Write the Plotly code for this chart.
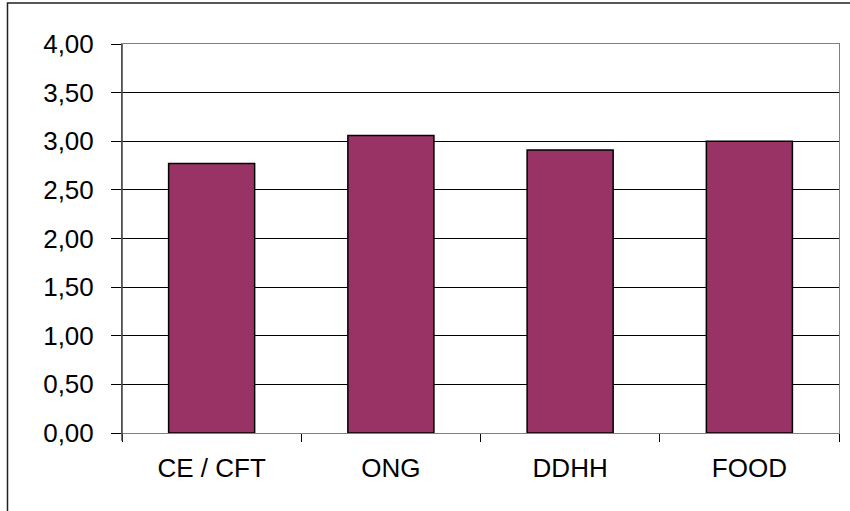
import plotly.graph_objects as go

# Mean scores per group
categories = ["CE / CFT", "ONG", "DDHH", "FOOD"]
values = [2.77, 3.06, 2.91, 3.00]
y_ticks = [0, 0.5, 1, 1.5, 2, 2.5, 3, 3.5, 4]
y_tick_labels = ["0,00", "0,50", "1,00", "1,50", "2,00", "2,50", "3,00", "3,50", "4,00"]

FONT = "Liberation Sans, Arial, sans-serif"

fig = go.Figure(
    go.Bar(
        x=categories,
        y=values,
        marker=dict(color="#993366", line=dict(color="#000000", width=1.5)),
        hoverinfo="x+y",
    )
)

fig.update_layout(
    width=850,
    height=511,
    margin=dict(l=122, r=11, t=44, b=78),
    paper_bgcolor="white",
    plot_bgcolor="white",
    bargap=0.52,
    showlegend=False,
    font=dict(family=FONT, size=26, color="#000000"),
    xaxis=dict(
        showline=True,
        linecolor="#808080",
        linewidth=1,
        mirror=True,
        ticks="outside",
        tickson="boundaries",
        ticklen=8,
        tickcolor="#000000",
        showgrid=False,
        ticklabelstandoff=12,
        tickfont=dict(family=FONT, size=26),
    ),
    yaxis=dict(
        range=[0, 4],
        tickvals=y_ticks,
        ticktext=y_tick_labels,
        showline=True,
        linecolor="#808080",
        linewidth=1,
        mirror=True,
        ticks="outside",
        ticklen=10,
        tickcolor="#000000",
        showgrid=True,
        gridcolor="#000000",
        gridwidth=1,
        zeroline=False,
        ticklabelstandoff=12,
        tickfont=dict(family=FONT, size=26),
    ),
    shapes=[
        # darker left axis line
        dict(type="line", xref="paper", yref="paper", x0=0, x1=0, y0=-0.02, y1=1,
             line=dict(color="#404040", width=1.5)),
        # outer chart frame
        dict(type="rect", xref="paper", yref="paper",
             x0=(7.5 - 122) / 717, x1=(860 - 122) / 717,
             y0=(433 - 520) / 389, y1=(433 - 3) / 389,
             line=dict(color="#202020", width=1.5), layer="below"),
    ],
)

fig.write_html("out.html")
